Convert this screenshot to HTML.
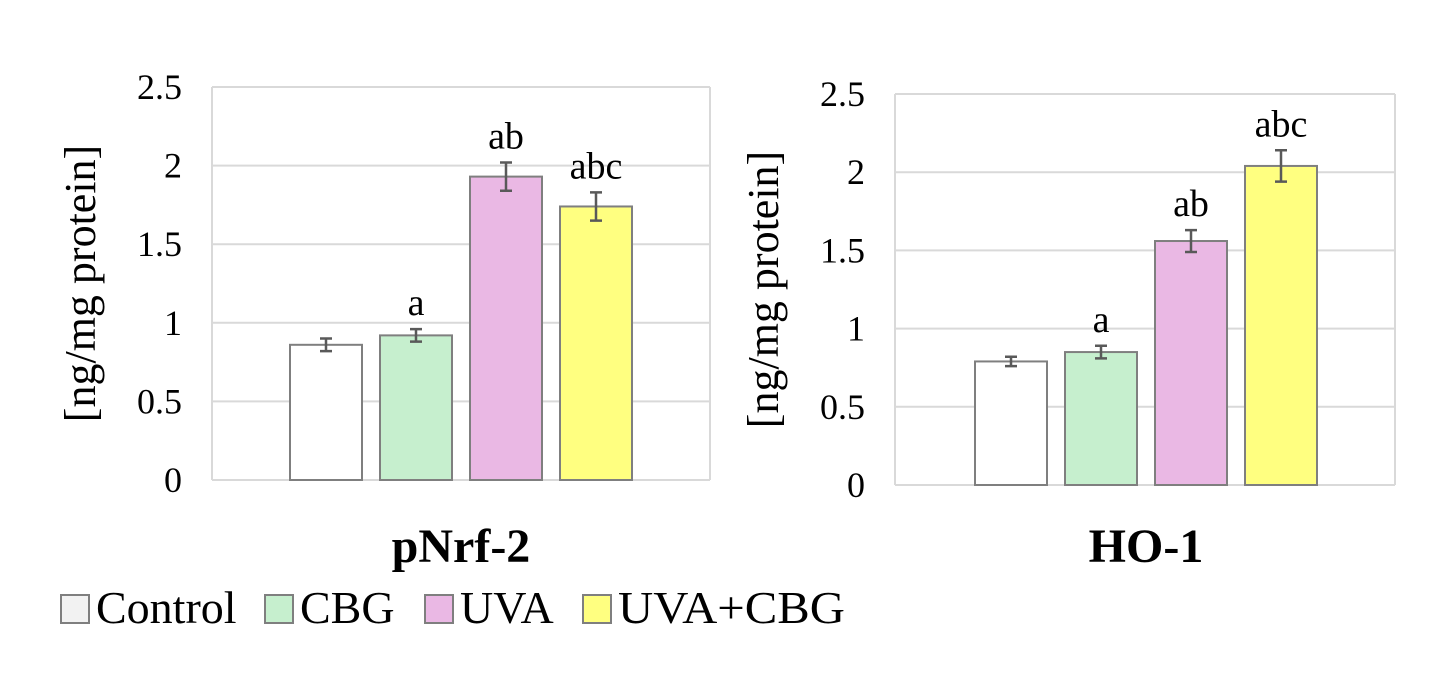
<!DOCTYPE html>
<html><head><meta charset="utf-8"><style>
body{margin:0;background:#fff;}
svg text{font-family:"Liberation Serif",serif;fill:#000;}
</style></head><body>
<svg id="s" width="1447" height="673" xmlns="http://www.w3.org/2000/svg">
<rect width="1447" height="673" fill="#fff"/>
<g id="legend">
<rect x="61" y="595" width="28" height="28" fill="#f2f2f2" stroke="#7f7f7f" stroke-width="2"/>
<text x="96" y="623" font-size="46">Control</text>
<rect x="265" y="595" width="28" height="28" fill="#c6efce" stroke="#7f7f7f" stroke-width="2"/>
<text x="300" y="623" font-size="46">CBG</text>
<rect x="425" y="595" width="28" height="28" fill="#eab8e4" stroke="#7f7f7f" stroke-width="2"/>
<text x="460" y="623" font-size="46">UVA</text>
<rect x="583" y="595" width="28" height="28" fill="#ffff80" stroke="#7f7f7f" stroke-width="2"/>
<text x="618" y="623" font-size="46" textLength="227" lengthAdjust="spacingAndGlyphs">UVA+CBG</text>
</g>
</svg>
<script>
const categories=["Control","CBG","UVA","UVA+CBG"];
const colors=["#ffffff","#c6efce","#eab8e4","#ffff80"];
const ticks=[0,0.5,1,1.5,2,2.5];
const nrfValues=[0.86,0.92,1.93,1.74];
const nrfErrors=[0.04,0.04,0.09,0.09];
const nrfLetters=["","a","ab","abc"];
const hoValues=[0.79,0.85,1.56,2.04];
const hoErrors=[0.03,0.04,0.07,0.10];
const hoLetters=["","a","ab","abc"];
const NS="http://www.w3.org/2000/svg";
const svg=document.getElementById('s');
function mk(t,a,p){const e=document.createElementNS(NS,t);for(const k in a)e.setAttribute(k,a[k]);(p||svg).appendChild(e);return e;}
function chart(cfg,vals,errs,letters,title,key){
  const g=mk('g',{});
  
  
  const y=v=>cfg.y0-(v/2.5)*(cfg.y0-cfg.y1);
  ticks.forEach(t=>{
    const l=mk('line',{x1:cfg.x0,x2:cfg.x1,y1:y(t),y2:y(t),stroke:'#d9d9d9','stroke-width':2},g);
    
    
    const tx=mk('text',{x:cfg.x0-30,y:y(t)+12,'font-size':36,'text-anchor':'end'},g);
    tx.textContent=String(t);
    
    
  });
  const r=mk('line',{x1:cfg.x1,x2:cfg.x1,y1:cfg.y1,y2:cfg.y0,stroke:'#d9d9d9','stroke-width':2},g);
  
  
  const lft=mk('line',{x1:cfg.x0,x2:cfg.x0,y1:cfg.y1,y2:cfg.y0,stroke:'#d9d9d9','stroke-width':2},g);
  
  
  const bw=72,step=90;
  vals.forEach((v,i)=>{
    const bx=cfg.bx+i*step;
    const b=mk('rect',{x:bx,y:y(v),width:bw,height:y(0)-y(v),fill:colors[i],stroke:'#7f7f7f','stroke-width':2},g);
    
    
    const cx=bx+bw/2,hi=y(v+errs[i]),lo=y(v-errs[i]);
    const e=mk('path',{d:`M${cx},${hi}V${lo}M${cx-6},${hi}H${cx+6}M${cx-6},${lo}H${cx+6}`,stroke:'#595959','stroke-width':2.5,fill:'none'},g);
    
    
    if(letters[i]){
      const t=mk('text',{x:cx,y:hi-14,'font-size':38,'text-anchor':'middle'},g);
      t.textContent=letters[i];
      
      
    }
  });
  const yt=mk('text',{x:0,y:0,'font-size':44,'text-anchor':'middle',transform:`translate(${cfg.x0-117},${(cfg.y0+cfg.y1)/2}) rotate(-90)`},g);
  yt.textContent='[ng/mg protein]';
  
  
  const ct=mk('text',{x:cfg.bx+(step*3+bw)/2,y:562,'font-size':48,'font-weight':'bold','text-anchor':'middle'},g);
  ct.textContent=title;
  
  
}
chart({x0:212,x1:710,y0:480,y1:87,bx:290},nrfValues,nrfErrors,nrfLetters,'pNrf-2','pnrf2');
chart({x0:895,x1:1395,y0:485,y1:94,bx:975},hoValues,hoErrors,hoLetters,'HO-1','ho1');
</script>
</body></html>
